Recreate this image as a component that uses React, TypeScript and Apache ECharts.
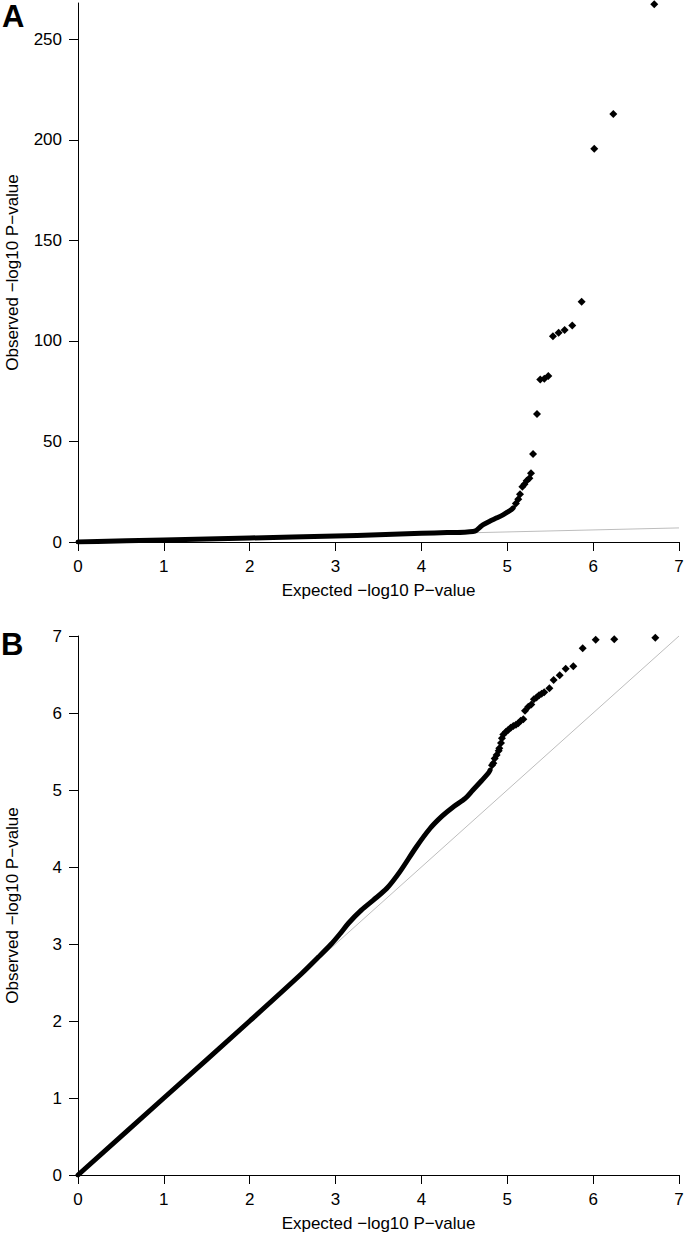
import React, { useEffect, useRef } from "react";
import * as echarts from "echarts";

// Panel A: dense band (drawn as thick line) and sparse tail points
const bandA_x = [0, 1, 2, 3, 3.5, 4, 4.3, 4.5, 4.6, 4.64, 4.68, 4.72, 4.8, 4.88, 4.95, 5.0, 5.05, 5.07];
const bandA_y = [0, 1.0, 2.0, 3.0, 3.6, 4.3, 4.7, 4.9, 5.2, 5.8, 7.3, 8.6, 10.4, 12.0, 13.5, 14.8, 16.2, 17.0];
const tailA_x = [5.1, 5.128, 5.148, 5.176, 5.2, 5.226, 5.257, 5.276, 5.3, 5.346, 5.384, 5.431, 5.478, 5.532, 5.598, 5.668, 5.757, 5.866, 6.013, 6.235, 6.712];
const tailA_y = [19.1, 21.3, 23.7, 27.5, 28.7, 30.4, 31.7, 34.2, 43.7, 63.7, 80.8, 81.2, 82.5, 102.3, 104.1, 105.4, 107.7, 119.5, 195.5, 212.8, 267.4];

// Panel B
const bandB_x = [0, 1, 2, 2.6, 2.8, 2.95, 3.05, 3.15, 3.3, 3.44, 3.595, 3.75, 3.94, 4.1, 4.24, 4.37, 4.51, 4.6, 4.7, 4.78, 4.8];
const bandB_y = [0, 1, 2, 2.61, 2.83, 3.0, 3.13, 3.27, 3.44, 3.57, 3.72, 3.94, 4.26, 4.5, 4.66, 4.78, 4.89, 5.0, 5.12, 5.22, 5.26];
const tailB_x = [4.822, 4.837, 4.853, 4.876, 4.9, 4.907, 4.927, 4.938, 4.954, 4.985, 5.01, 5.04, 5.07, 5.101, 5.128, 5.156, 5.187, 5.206, 5.245, 5.28, 5.31, 5.34, 5.37, 5.4, 5.43, 5.49, 5.54, 5.61, 5.68, 5.769, 5.878, 6.03, 6.246, 6.724];
const tailB_y = [5.32, 5.347, 5.41, 5.455, 5.51, 5.541, 5.61, 5.671, 5.72, 5.757, 5.78, 5.81, 5.83, 5.848, 5.866, 5.9, 5.918, 6.03, 6.08, 6.11, 6.18, 6.2, 6.23, 6.25, 6.27, 6.32, 6.43, 6.49, 6.575, 6.606, 6.84, 6.952, 6.957, 6.978];

// Reference diagonal (expected = observed)
const diag_x = [0, 7];
const diag_y = [0, 7];

const xTicks = [0, 1, 2, 3, 4, 5, 6, 7];
const yTicksA = [0, 50, 100, 150, 200, 250];
const yTicksB = [0, 1, 2, 3, 4, 5, 6, 7];

const xTitle = "Expected \u2212log10 P\u2212value";
const yTitle = "Observed \u2212log10 P\u2212value";

const pairs = (xs: number[], ys: number[]) => xs.map((x, i) => [x, ys[i]]);

const FONT = "'Liberation Sans', Arial, sans-serif";

export default function App() {
  const ref = useRef<HTMLDivElement>(null);
  useEffect(() => {
    if (!ref.current) return;
    const chart = echarts.init(ref.current, undefined, { renderer: "svg" });
    const axisCommon = {
      type: "value",
      axisLine: { show: true, lineStyle: { color: "#000", width: 1 } },
      axisTick: { show: true, inside: false, length: 9, lineStyle: { color: "#000", width: 1 } },
      splitLine: { show: false },
      axisLabel: { color: "#000", fontSize: 17, fontFamily: FONT, margin: 16 },
      nameTextStyle: { color: "#000", fontSize: 17, fontFamily: FONT },
    };
    const xAx = (gi: number) => ({
      ...axisCommon,
      gridIndex: gi,
      min: 0,
      max: 7,
      interval: 1,
      name: xTitle,
      nameLocation: "middle",
      nameGap: 40,
      axisTick: { ...axisCommon.axisTick, customValues: xTicks },
      axisLabel: { ...axisCommon.axisLabel, customValues: xTicks },
    });
    const yAx = (gi: number, max: number, ticks: number[], interval: number) => ({
      ...axisCommon,
      gridIndex: gi,
      min: 0,
      max,
      interval,
      name: yTitle,
      nameLocation: "middle",
      nameGap: 57,
      nameRotate: 90,
      axisTick: { ...axisCommon.axisTick, customValues: ticks },
      axisLabel: { ...axisCommon.axisLabel, customValues: ticks },
    });
    const diagSeries = (gi: number) => ({
      type: "line",
      xAxisIndex: gi,
      yAxisIndex: gi,
      data: pairs(diag_x, diag_y),
      symbol: "none",
      lineStyle: { color: "#bdbdbd", width: 1 },
      z: 1,
      silent: true,
    });
    const bandSeries = (gi: number, xs: number[], ys: number[]) => ({
      type: "line",
      xAxisIndex: gi,
      yAxisIndex: gi,
      data: pairs(xs, ys),
      symbol: "none",
      smooth: 0.3,
      lineStyle: { color: "#000", width: 5, cap: "round", join: "round" },
      z: 2,
    });
    const tailSeries = (gi: number, xs: number[], ys: number[]) => ({
      type: "scatter",
      xAxisIndex: gi,
      yAxisIndex: gi,
      data: pairs(xs, ys),
      symbol: "diamond",
      symbolSize: 8,
      itemStyle: { color: "#000", opacity: 1 },
      clip: false,
      z: 3,
    });
    chart.setOption({
      animation: false,
      backgroundColor: "#fff",
      textStyle: { fontFamily: FONT },
      grid: [
        { left: 78, right: 6, top: 3, height: 539, containLabel: false, outerBoundsMode: "none" },
        { left: 78, right: 6, top: 636, height: 539, containLabel: false, outerBoundsMode: "none" },
      ],
      xAxis: [xAx(0), xAx(1)],
      yAxis: [yAx(0, 268, yTicksA, 50), yAx(1, 7, yTicksB, 1)],
      series: [
        diagSeries(0),
        bandSeries(0, bandA_x, bandA_y),
        tailSeries(0, tailA_x, tailA_y),
        diagSeries(1),
        bandSeries(1, bandB_x, bandB_y),
        tailSeries(1, tailB_x, tailB_y),
      ],
      graphic: [
        {
          type: "text",
          left: 2,
          top: 1,
          style: { text: "A", fontSize: 31, fontWeight: "bold", fontFamily: FONT, fill: "#000" },
        },
        {
          type: "text",
          left: 1,
          top: 629,
          style: { text: "B", fontSize: 31, fontWeight: "bold", fontFamily: FONT, fill: "#000" },
        },
      ],
    });
    return () => chart.dispose();
  }, []);
  return (
    <div
      ref={ref}
      style={{ position: "absolute", left: 0, top: 0, width: 685, height: 1235, background: "#fff" }}
    />
  );
}
